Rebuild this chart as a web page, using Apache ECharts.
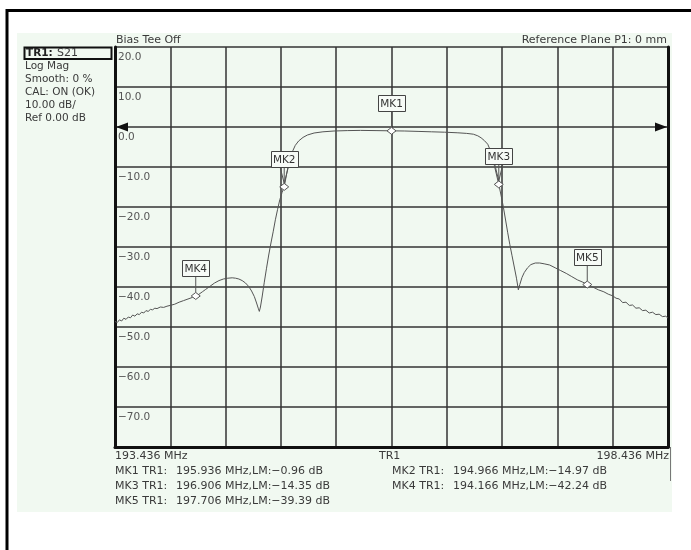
<!DOCTYPE html>
<html><head><meta charset="utf-8">
<script src="https://cdn.jsdelivr.net/npm/echarts@6/dist/echarts.min.js"></script>
<style>html,body{margin:0;padding:0;background:#fff}#c{width:691px;height:550px}</style>
</head><body><div id="c"></div>
<script>
// ---- data ----
const startFreq = 193.436;   // MHz
const stopFreq = 198.436;    // MHz
const refLevel = 0;          // dB
const yTicks = [20, 10, 0, -10, -20, -30, -40, -50, -60, -70, -80];
const traceFreq = [
 193.436,193.456,193.476,193.496,193.516,193.536,193.556,193.576,193.596,193.616,
 193.636,193.656,193.676,193.696,193.716,193.736,193.756,193.776,193.796,193.816,
 193.846,193.876,193.906,193.936,193.976,194.016,194.056,194.096,194.136,194.166,
 194.196,194.226,194.256,194.296,194.336,194.376,194.416,194.456,194.496,194.526,
 194.556,194.586,194.616,194.646,194.671,194.696,194.716,194.731,194.741,194.751,
 194.766,194.786,194.806,194.826,194.846,194.866,194.886,194.906,194.926,194.946,
 194.966,194.986,195.006,195.026,195.046,195.066,195.096,195.136,195.176,195.236,
 195.316,195.416,195.536,195.656,195.796,195.936,196.056,196.176,196.296,196.416,
 196.536,196.616,196.676,196.716,196.746,196.776,196.806,196.826,196.846,196.866,
 196.886,196.906,196.926,196.946,196.966,196.986,197.006,197.026,197.046,197.066,
 197.083,197.096,197.116,197.136,197.166,197.196,197.236,197.276,197.316,197.366,
 197.416,197.466,197.516,197.566,197.616,197.666,197.706,197.756,197.806,197.856,
 197.896,197.936,197.966,197.996,198.026,198.056,198.086,198.116,198.146,198.176,
 198.206,198.236,198.266,198.296,198.326,198.356,198.386,198.416,198.436
];
const traceDb = [
 -48.6,-48.9,-48.2,-48.5,-47.8,-48.1,-47.5,-47.7,-47.0,-47.3,
 -46.7,-46.9,-46.3,-46.5,-45.9,-46.1,-45.6,-45.7,-45.3,-45.4,
 -45.0,-45.1,-44.8,-44.6,-44.3,-43.8,-43.4,-43.0,-42.6,-42.24,
 -41.8,-41.2,-40.6,-39.8,-39.0,-38.4,-38.0,-37.8,-37.7,-37.8,
 -38.0,-38.4,-39.0,-39.9,-41.0,-42.4,-44.0,-45.3,-46.1,-45.0,
 -42.5,-38.8,-35.3,-32.0,-29.0,-26.2,-23.2,-20.6,-18.2,-16.4,
 -14.97,-12.0,-9.2,-7.2,-5.8,-4.6,-3.5,-2.6,-2.0,-1.5,
 -1.2,-1.0,-0.9,-0.85,-0.9,-0.96,-1.0,-1.1,-1.2,-1.3,
 -1.45,-1.6,-1.8,-2.2,-2.7,-3.4,-4.3,-5.6,-7.5,-9.6,
 -12.0,-14.35,-17.0,-19.8,-23.0,-26.3,-29.4,-32.2,-35.0,-37.8,
 -40.7,-39.4,-37.6,-36.4,-35.2,-34.4,-34.0,-34.0,-34.2,-34.5,
 -35.2,-35.9,-36.6,-37.4,-38.2,-38.8,-39.39,-40.0,-40.7,-41.2,
 -41.8,-42.2,-42.8,-43.0,-43.9,-43.8,-44.6,-44.5,-45.3,-45.2,
 -45.9,-45.8,-46.5,-46.3,-46.9,-46.8,-47.4,-47.3,-47.8
];
const markerNames = ['MK1', 'MK2', 'MK3', 'MK4', 'MK5'];
const markerFreq = [195.936, 194.966, 196.906, 194.166, 197.706];
const markerDb = [-0.96, -14.97, -14.35, -42.24, -39.39];
const headerLeft = 'Bias Tee Off';
const headerRight = 'Reference Plane P1: 0 mm';
const infoLines = ['Log Mag', 'Smooth: 0 %', 'CAL: ON (OK)', '10.00 dB/', 'Ref 0.00 dB'];
const traceName = 'TR1';
const traceParam = 'S21';

// ---- chart ----
const FONT = '"DejaVu Sans", "Liberation Sans", Arial, sans-serif';
const FS = '11px ';
const TXT = '#3a3a3a';
const fmtDb = v => (v < 0 ? '\u2212' : '') + Math.abs(v).toFixed(2);
const fmtTick = v => (v < 0 ? '\u2212' : '') + Math.abs(v).toFixed(1);

const traceData = traceFreq.map((f, i) => [f - startFreq, traceDb[i]]);
const markerData = markerFreq.map((f, i) => [f - startFreq, markerDb[i], i]);
const span = stopFreq - startFreq;

const chart = echarts.init(document.getElementById('c'), null, {renderer: 'canvas'});

const graphics = [
  {type: 'rect', z: -10, shape: {x: 17, y: 33, width: 655, height: 479}, style: {fill: '#f1f9f1'}},
  {type: 'rect', z: 10, shape: {x: 6, y: 9, width: 685, height: 3}, style: {fill: '#000'}},
  {type: 'rect', z: 10, shape: {x: 5.5, y: 9, width: 3, height: 541}, style: {fill: '#000'}},
  {type: 'line', z: 5, shape: {x1: 670.5, y1: 447, x2: 670.5, y2: 481}, style: {stroke: '#777', lineWidth: 1}},
  {type: 'text', x: 116, y: 40, style: {text: headerLeft, font: FS + FONT, fill: TXT, textVerticalAlign: 'middle'}},
  {type: 'text', x: 667, y: 40, style: {text: headerRight, font: FS + FONT, fill: TXT, textAlign: 'right', textVerticalAlign: 'middle'}},
  {type: 'rect', shape: {x: 24.5, y: 47.5, width: 87, height: 11.5}, style: {fill: 'none', stroke: '#111', lineWidth: 2}},
  {type: 'text', x: 26, y: 53.5, style: {text: traceName + ':', font: 'bold 10.5px ' + FONT, fill: '#222', textVerticalAlign: 'middle'}},
  {type: 'text', x: 57, y: 53.5, style: {text: traceParam, font: FS + FONT, fill: TXT, textVerticalAlign: 'middle'}},
  {type: 'text', x: 115, y: 456, style: {text: startFreq.toFixed(3) + ' MHz', font: FS + FONT, fill: TXT, textVerticalAlign: 'middle'}},
  {type: 'text', x: 379, y: 456, style: {text: traceName, font: FS + FONT, fill: TXT, textVerticalAlign: 'middle'}},
  {type: 'text', x: 669, y: 456, style: {text: stopFreq.toFixed(3) + ' MHz', font: FS + FONT, fill: TXT, textAlign: 'right', textVerticalAlign: 'middle'}}
];
infoLines.forEach((t, i) => {
  graphics.push({type: 'text', x: 25, y: 66 + i * 13, style: {text: t, font: '10.5px ' + FONT, fill: TXT, textVerticalAlign: 'middle'}});
});
markerNames.forEach((n, i) => {
  const col = i % 2, row = Math.floor(i / 2);
  const x0 = col === 0 ? 115 : 392;
  const y = 471 + row * 15;
  graphics.push({type: 'text', x: x0, y: y, style: {text: n + ' ' + traceName + ':', font: FS + FONT, fill: TXT, textVerticalAlign: 'middle'}});
  graphics.push({type: 'text', x: x0 + 61, y: y, style: {text: markerFreq[i].toFixed(3) + ' MHz,LM:' + fmtDb(markerDb[i]) + ' dB', font: FS + FONT, fill: TXT, textVerticalAlign: 'middle'}});
});

const axisCommon = {
  min: -80, max: 20, interval: 10,
  axisTick: {show: false}
};

chart.setOption({
  animation: false,
  backgroundColor: '#fff',
  grid: {left: 115, top: 47, width: 553, height: 400, show: false},
  xAxis: {
    type: 'value', min: 0, max: span, interval: 0.5,
    axisLine: {show: true, onZero: false, lineStyle: {color: '#111', width: 3}},
    axisTick: {show: false}, axisLabel: {show: false},
    splitLine: {show: true, lineStyle: {color: '#333', width: 1.5}}
  },
  yAxis: [
    Object.assign({}, axisCommon, {
      type: 'value', position: 'left',
      axisLine: {show: true, onZero: false, lineStyle: {color: '#111', width: 3}},
      axisLabel: {
        inside: true, margin: 3, verticalAlign: 'top', padding: [5, 0, 0, 0],
        color: '#555', fontSize: 10.5, fontFamily: FONT,
        formatter: v => (v === -80 ? '' : fmtTick(v))
      },
      splitLine: {show: true, lineStyle: {color: '#333', width: 1.5}}
    }),
    Object.assign({}, axisCommon, {
      type: 'value', position: 'right',
      axisLine: {show: true, onZero: false, lineStyle: {color: '#111', width: 3}},
      axisLabel: {show: false}, splitLine: {show: false}
    })
  ],
  graphic: graphics,
  series: [
    {
      type: 'line', data: traceData, showSymbol: false, symbol: 'none', smooth: false,
      lineStyle: {color: '#555', width: 1}, z: 3
    },
    {
      type: 'custom', z: 6, data: [[0, refLevel]],
      renderItem: (params, api) => {
        const p = api.coord([api.value(0), api.value(1)]);
        const cs = params.coordSys;
        const L = cs.x + 1, R = cs.x + cs.width - 1;
        return {type: 'group', children: [
          {type: 'polygon', shape: {points: [[L, p[1]], [L + 12, p[1] - 4.5], [L + 12, p[1] + 4.5]]}, style: {fill: '#111'}},
          {type: 'polygon', shape: {points: [[R, p[1]], [R - 12, p[1] - 4.5], [R - 12, p[1] + 4.5]]}, style: {fill: '#111'}}
        ]};
      }
    },
    {
      type: 'custom', z: 7, data: markerData,
      renderItem: (params, api) => {
        const p = api.coord([api.value(0), api.value(1)]);
        const name = markerNames[api.value(2)];
        const bw = 27, bh = 16, gap = 20;
        const bx = Math.round(p[0] - bw / 2) + 0.5, by = Math.round(p[1] - gap - bh) + 0.5;
        const children = [];
        const steep = (name === 'MK2' || name === 'MK3');
        const offs = steep ? [-4, 0, 4] : [0];
        offs.forEach(o => {
          children.push({type: 'line', shape: {x1: p[0] + o, y1: by + bh, x2: p[0], y2: p[1] - 3.5}, style: {stroke: '#555', lineWidth: 1}});
        });
        children.push({type: 'rect', shape: {x: bx, y: by, width: bw, height: bh}, style: {fill: '#f7fbf7', stroke: '#444', lineWidth: 1}});
        children.push({type: 'text', x: p[0], y: by + bh / 2 + 0.5, style: {text: name, font: '10.5px ' + FONT, fill: '#333', textAlign: 'center', textVerticalAlign: 'middle'}});
        children.push({type: 'polygon', shape: {points: [[p[0], p[1] - 3.5], [p[0] + 4.5, p[1]], [p[0], p[1] + 3.5], [p[0] - 4.5, p[1]]]}, style: {fill: '#fff', stroke: '#555', lineWidth: 1}});
        return {type: 'group', children: children};
      }
    }
  ]
});
</script>
</body></html>
